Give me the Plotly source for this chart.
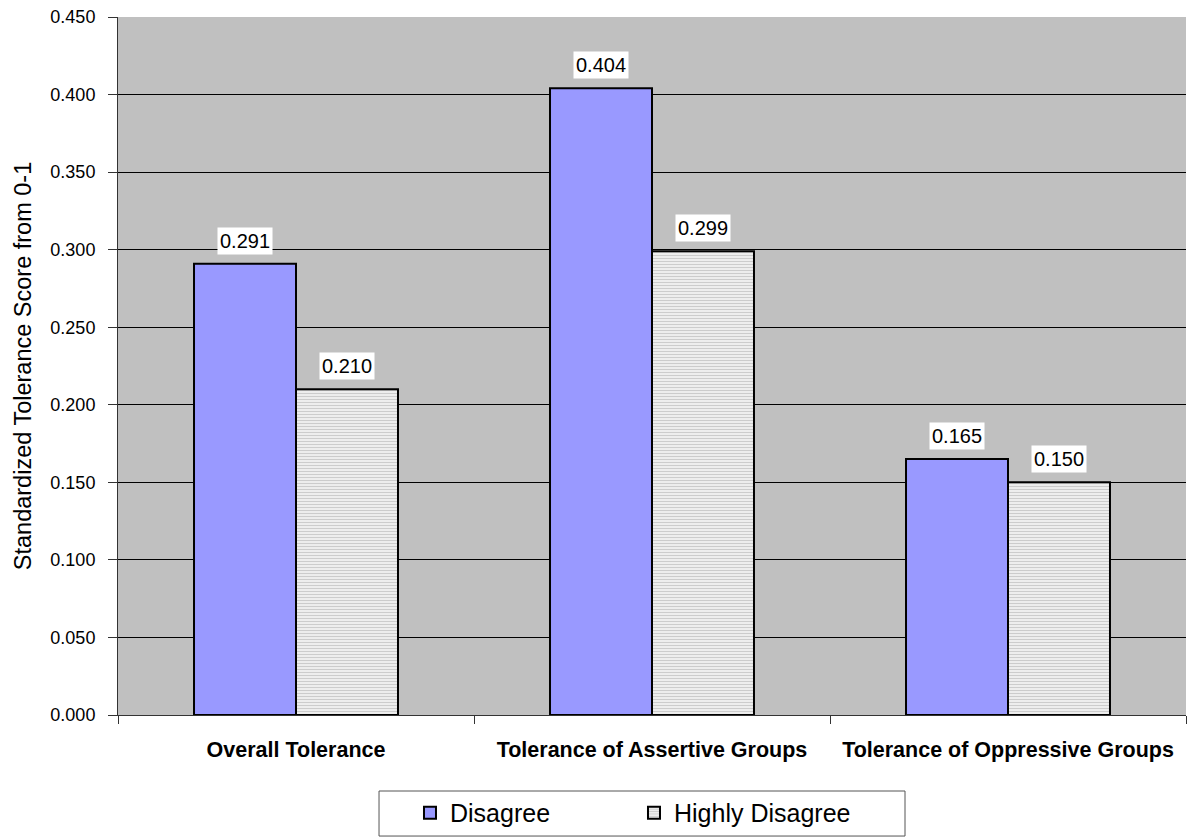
import plotly.graph_objects as go

categories = ["Overall Tolerance", "Tolerance of Assertive Groups", "Tolerance of Oppressive Groups"]
disagree = [0.291, 0.404, 0.165]
highly_disagree = [0.210, 0.299, 0.150]
series_names = ["Disagree", "Highly Disagree"]
y_ticks = [0.0, 0.05, 0.1, 0.15, 0.2, 0.25, 0.3, 0.35, 0.4, 0.45]

FONT = "Liberation Sans, Arial, sans-serif"

fig = go.Figure()
fig.add_trace(go.Bar(
    name=series_names[0], x=categories, y=disagree,
    marker=dict(color="#9999FF", line=dict(color="black", width=2)),
))
fig.add_trace(go.Bar(
    name=series_names[1], x=categories, y=highly_disagree,
    marker=dict(color="#FFFFFF", line=dict(color="black", width=2),
                pattern=dict(shape="-", fgcolor="#A8A8A8", bgcolor="#F0F0F0", size=3, solidity=0.4)),
))

bar_px = 102
for vals, shift in ((disagree, -bar_px / 2), (highly_disagree, bar_px / 2)):
    for c, v in zip(categories, vals):
        fig.add_annotation(x=c, y=v, xref="x", yref="y", text=f"{v:.3f}",
                           showarrow=False, xshift=shift, yanchor="bottom", yshift=9,
                           bgcolor="white", borderpad=2,
                           font=dict(family=FONT, size=20, color="black"))

# legend frame
fig.add_shape(type="rect", xref="paper", yref="paper",
              x0=0.2444, x1=0.7369, y0=-0.1734, y1=-0.1089,
              line=dict(color="#555555", width=1), fillcolor="white", layer="below")

fig.update_layout(
    width=1187, height=837,
    margin=dict(l=118, r=1, t=17, b=122),
    paper_bgcolor="white", plot_bgcolor="#C0C0C0",
    barmode="group", bargap=0.427, bargroupgap=0,
    font=dict(family=FONT, size=18, color="black"),
    showlegend=True,
    legend=dict(orientation="h", x=0.2734, xanchor="left", y=-0.1404, yanchor="middle",
                bgcolor="rgba(0,0,0,0)", borderwidth=0,
                font=dict(family=FONT, size=25), entrywidth=179, itemwidth=30,
                traceorder="normal"),
    xaxis=dict(showgrid=False, ticks="outside", tickson="boundaries", ticklen=8,
               tickcolor="#333333", showline=True, linecolor="#333333", linewidth=1,
               tickfont=dict(family=FONT, size=21.5, weight="bold"), ticklabelstandoff=15),
    yaxis=dict(range=[0, 0.45], tickvals=y_ticks, tickformat=".3f",
               showgrid=True, gridcolor="black", gridwidth=1,
               ticks="outside", ticklen=9, tickcolor="#333333",
               showline=True, linecolor="#333333", linewidth=1,
               zeroline=False, tickfont=dict(family=FONT, size=18), ticklabelstandoff=9,
               title=dict(text="Standardized Tolerance Score from 0-1", standoff=12,
                          font=dict(family=FONT, size=23.5))),
)

fig.write_html("out.html")
